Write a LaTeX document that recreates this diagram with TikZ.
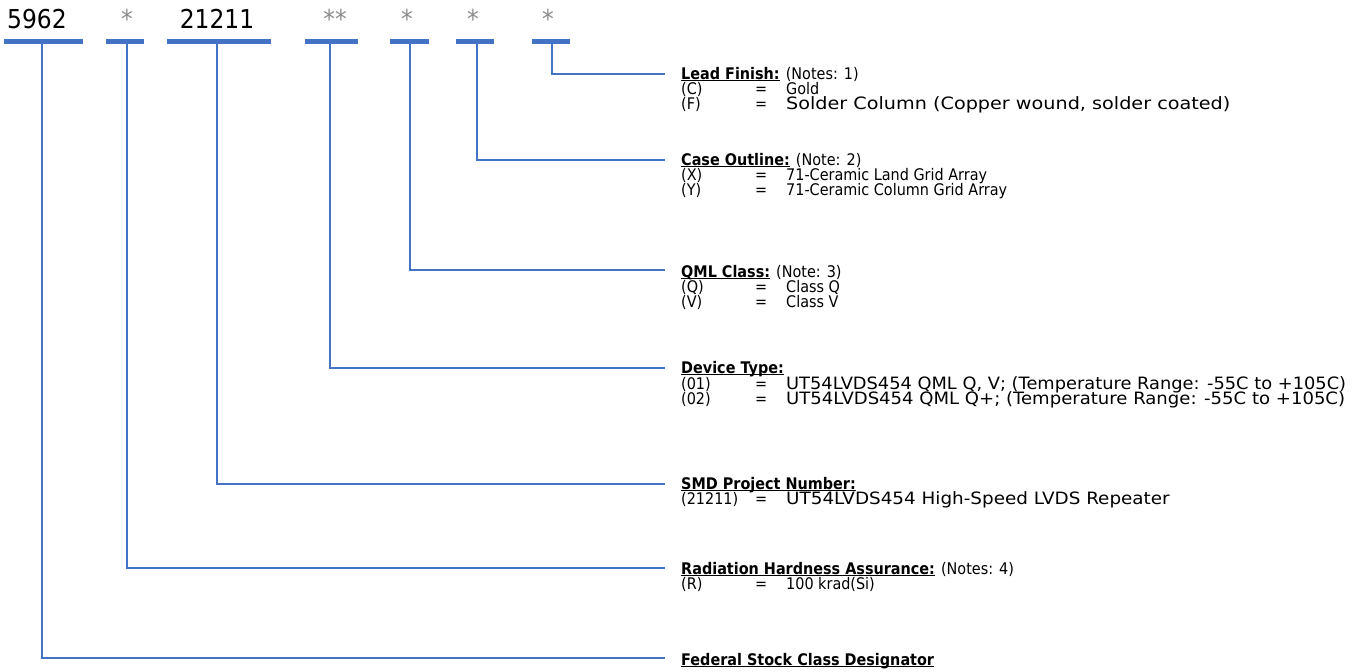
\documentclass[tikz,border=0pt]{standalone}
\usepackage{fontspec}
\usepackage{graphicx}
\setmainfont{DejaVu Sans}[FakeStretch=0.9]
\definecolor{barblue}{HTML}{4472C4}
\definecolor{stargray}{HTML}{8C8C8C}
\newlength\ulwidth
\newcommand\myul[1]{\settowidth\ulwidth{#1}\rlap{\rule[-2.2pt]{\ulwidth}{1.2pt}}#1}
\begin{document}
\begin{tikzpicture}[x=1pt,y=-1pt,
  bar/.style={fill=barblue, inner sep=0pt, minimum height=5pt},
  conn/.style={draw=barblue, line width=2pt},
  code/.style={font=\fontsize{26}{30}\selectfont, inner sep=0pt, anchor=base},
  star/.style={code, text=stargray},
  txt/.style={font=\fontsize{16}{18}\selectfont, inner sep=0pt, anchor=base west},
  widetxt/.style={txt, font=\fontsize{17}{18}\selectfont},
]
\useasboundingbox (0,0) rectangle (1366,672);
% top code labels
\node[code] (l1) at (37,28) {5962};
\node[star] (l2) at (127,28) {*};
\node[code] (l3) at (217,28) {21211};
\node[star] (l4) at (335,28) {**};
\node[star] (l5) at (407,28) {*};
\node[star] (l6) at (473,28) {*};
\node[star] (l7) at (548,28) {*};
% bars
\node[bar, minimum width=79pt] (b1) at (43.5,41.7) {};
\node[bar, minimum width=38pt] (b2) at (125,41.7) {};
\node[bar, minimum width=104pt] (b3) at (219,41.7) {};
\node[bar, minimum width=53pt] (b4) at (331.5,41.7) {};
\node[bar, minimum width=39pt] (b5) at (409.5,41.7) {};
\node[bar, minimum width=38pt] (b6) at (475,41.7) {};
\node[bar, minimum width=38pt] (b7) at (551,41.7) {};
% connector ends
\coordinate (e7) at (665,74);
\coordinate (e6) at (665,160);
\coordinate (e5) at (665,270);
\coordinate (e4) at (665,368);
\coordinate (e3) at (665,484);
\coordinate (e2) at (665,568);
\coordinate (e1) at (665,658);
\draw[conn] ([xshift=-1.5pt]b1.south) |- (e1);
\draw[conn] ([xshift=2pt]b2.south) |- (e2);
\draw[conn] ([xshift=-2pt]b3.south) |- (e3);
\draw[conn] ([xshift=-2pt]b4.south) |- (e4);
\draw[conn] (b5.south) |- (e5);
\draw[conn] ([xshift=2pt]b6.south) |- (e6);
\draw[conn] ([xshift=0.5pt]b7.south) |- (e7);
% Lead finish
\node[txt] (t7) at (681,79) {\myul{\textbf{Lead Finish:}} (Notes: 1)};
\node[txt] (k7a) at (681,94) {(C)};
\node[txt] (q7a) at (755,94) {=};
\node[txt] (v7a) at (786,94) {Gold};
\node[txt] (k7b) at (681,109) {(F)};
\node[txt] (q7b) at (755,109) {=};
\node[widetxt] (v7b) at (786,109) {\scalebox{1.255}[1]{Solder Column (Copper wound, solder coated)}};
% Case outline
\node[txt] (t6) at (681,165) {\myul{\textbf{Case Outline:}} (Note: 2)};
\node[txt] (k6a) at (681,180) {(X)};
\node[txt] (q6a) at (755,180) {=};
\node[txt] (v6a) at (786,180) {71-Ceramic Land Grid Array};
\node[txt] (k6b) at (681,195) {(Y)};
\node[txt] (q6b) at (755,195) {=};
\node[txt] (v6b) at (786,195) {71-Ceramic Column Grid Array};
% QML class
\node[txt] (t5) at (681,277) {\myul{\textbf{QML Class:}} (Note: 3)};
\node[txt] (k5a) at (681,292) {(Q)};
\node[txt] (q5a) at (755,292) {=};
\node[txt] (v5a) at (786,292) {Class Q};
\node[txt] (k5b) at (681,307) {(V)};
\node[txt] (q5b) at (755,307) {=};
\node[txt] (v5b) at (786,307) {Class V};
% Device type
\node[txt] (t4) at (681,373) {\myul{\textbf{Device Type:}}};
\node[txt] (k4a) at (681,389) {(01)};
\node[txt] (q4a) at (755,389) {=};
\node[widetxt] (v4a) at (786,389) {\scalebox{1.164}[1]{UT54LVDS454 QML Q, V; (Temperature Range: -55C to +105C)}};
\node[txt] (k4b) at (681,404) {(02)};
\node[txt] (q4b) at (755,404) {=};
\node[widetxt] (v4b) at (786,404) {\scalebox{1.18}[1]{UT54LVDS454 QML Q+; (Temperature Range: -55C to +105C)}};
% SMD
\node[txt] (t3) at (681,489) {\myul{\textbf{SMD Project Number:}}};
\node[txt] (k3a) at (681,504) {(21211)};
\node[txt] (q3a) at (755,504) {=};
\node[widetxt] (v3a) at (786,504) {\scalebox{1.2}[1]{UT54LVDS454 High-Speed LVDS Repeater}};
% Radiation
\node[txt] (t2) at (681,574) {\myul{\textbf{Radiation Hardness Assurance:}} (Notes: 4)};
\node[txt] (k2a) at (681,589) {(R)};
\node[txt] (q2a) at (755,589) {=};
\node[txt] (v2a) at (786,589) {100 krad(Si)};
% Federal
\node[txt] (t1) at (681,665) {\myul{\textbf{Federal Stock Class Designator}}};
\end{tikzpicture}
\end{document}
